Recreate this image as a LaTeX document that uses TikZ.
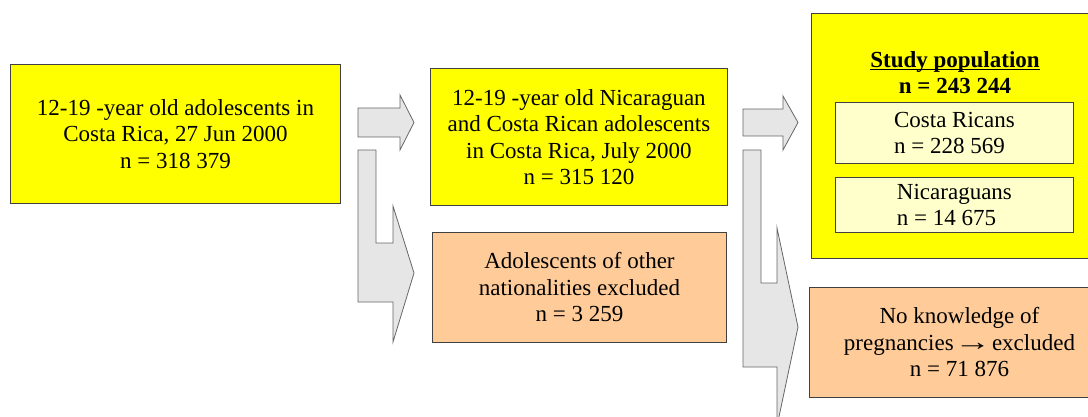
\documentclass[tikz,border=0pt]{standalone}
\usepackage{fontspec}
\usepackage{graphicx}
\setmainfont{Liberation Serif}
\definecolor{boxyellow}{HTML}{FFFF00}
\definecolor{boxorange}{HTML}{FFCC99}
\definecolor{boxpale}{HTML}{FFFFCC}
\definecolor{arrowfill}{HTML}{E6E6E6}
\definecolor{edge}{HTML}{404040}
\newcommand\myul[1]{{\setbox0=\hbox{#1}\leavevmode\rlap{\rule[-3pt]{\wd0}{1.1pt}}\box0}}
\begin{document}
\begin{tikzpicture}[x=1pt,y=-1pt,
  box/.style={draw=edge, line width=0.9pt, inner sep=0pt, anchor=north west,
    align=center, font=\fontsize{23}{26.5}\selectfont},
  blockarrow/.style={draw=edge!80, line width=0.8pt, fill=arrowfill, line join=miter}]
\useasboundingbox (0,0) rectangle (1088,416);
\clip (0,0) rectangle (1088,416);

% block arrows
\draw[blockarrow] (358,108) -- (400,108) -- (400,95) -- (414,122.5) -- (400,150) -- (400,137) -- (358,137) -- cycle;
\draw[blockarrow] (358,150) -- (376,150) -- (376,243) -- (393,243) -- (393,206) -- (414,273) -- (393,342) -- (393,302) -- (358,302) -- cycle;
\draw[blockarrow] (743,109) -- (783,109) -- (783,96) -- (798,122.5) -- (783,150) -- (783,136) -- (743,136) -- cycle;
\draw[blockarrow] (743,150) -- (761,150) -- (761,283) -- (777,283) -- (777,228) -- (798,327) -- (777,426) -- (777,367) -- (743,367) -- cycle;

% boxes
\node[box, fill=boxyellow, minimum width=330, minimum height=139] (start) at (10,64)
  {12-19 -year old adolescents in\\Costa Rica, 27 Jun 2000\\n = 318 379};
\node[box, fill=boxyellow, minimum width=297, minimum height=137] (nicacr) at (430,68)
  {12-19 -year old Nicaraguan\\and Costa Rican adolescents\\in Costa Rica, July 2000\\n = 315 120};
\node[box, fill=boxorange, minimum width=294, minimum height=110] (other) at (432,232)
  {Adolescents of other\\nationalities excluded\\n = 3 259};
\node[box, fill=boxyellow, minimum width=300, minimum height=245] (study) at (811,13) {};
\node[align=center, inner sep=0pt, font=\fontsize{23}{26}\selectfont\bfseries] (studytitle) at (955,72.5)
  {\myul{Study population}\\n = 243 244};
\node[box, fill=boxpale, minimum width=238, minimum height=61, align=left] (cr) at (835,102)
  {Costa Ricans\\n = 228 569};
\node[box, fill=boxpale, minimum width=238, minimum height=55, align=left] (nica) at (835,177)
  {Nicaraguans\\n = 14 675};
\node[box, fill=boxorange, minimum width=300, minimum height=110] (noknow) at (809,287)
  {No knowledge of\\pregnancies\hspace{-5pt} \scalebox{1.6}[1.1]{→}\hspace{-5pt} excluded\\n = 71 876};
\end{tikzpicture}
\end{document}
